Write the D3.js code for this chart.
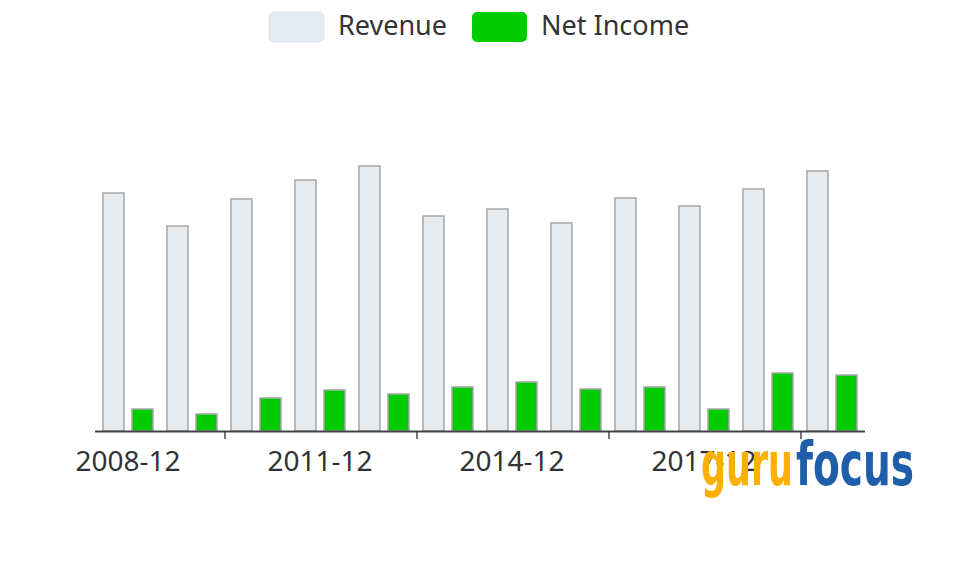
<!DOCTYPE html>
<html>
<head>
<meta charset="utf-8">
<script src="https://cdn.jsdelivr.net/npm/d3@7"></script>
<style>
  html, body { margin: 0; padding: 0; background: #fff; }
  svg { display: block; font-family: "Noto Sans", "Open Sans", sans-serif; }
</style>
</head>
<body>
<svg id="chart" width="959" height="567"></svg>
<script>
// Data
const years = ["2008-12", "2009-12", "2010-12", "2011-12", "2012-12", "2013-12",
               "2014-12", "2015-12", "2016-12", "2017-12", "2018-12", "2019-12"];
const revenue = [2380, 2050, 2320, 2510, 2650, 2150, 2220, 2080, 2330, 2250, 2420, 2600];
const netIncome = [220, 170, 330, 410, 370, 440, 490, 420, 440, 220, 580, 560];
const seriesNames = ["Revenue", "Net Income"];
const labelYears = ["2008-12", "2011-12", "2014-12", "2017-12"];

const svg = d3.select("#chart");

// Colors
const colors = {"Revenue": "#e6ebf0", "Net Income": "#00cc00"};

// Scales
const x0 = d3.scaleBand().domain(years).range([96, 864]).padding(0);
const x1 = d3.scaleBand().domain(seriesNames).range([7, 57]).paddingInner(0.276).paddingOuter(0);
const y = d3.scaleLinear().domain([0, 3000]).range([431, 131]);

const rows = years.map((yr, i) => ({year: yr, values: [
    {name: "Revenue", value: revenue[i]},
    {name: "Net Income", value: netIncome[i]}
]}));

// Bars
const groups = svg.append("g").selectAll("g")
    .data(rows)
    .enter().append("g")
    .attr("transform", d => `translate(${x0(d.year)},0)`);

groups.selectAll("rect")
    .data(d => d.values)
    .enter().append("rect")
    .attr("x", d => x1(d.name))
    .attr("y", d => y(d.value))
    .attr("width", x1.bandwidth())
    .attr("height", d => y(0) - y(d.value))
    .attr("fill", d => colors[d.name])
    .attr("stroke", "#a6a6a6")
    .attr("stroke-width", 1.5);

// X axis line
svg.append("line")
    .attr("x1", 95).attr("x2", 865)
    .attr("y1", y(0) + 0.5).attr("y2", y(0) + 0.5)
    .attr("stroke", "#444")
    .attr("stroke-width", 2);

// Ticks (between bands, ahead of each labelled year's third)
const tickYears = [years[2], years[5], years[8], years[11]];
svg.append("g").selectAll("line")
    .data(tickYears)
    .enter().append("line")
    .attr("x1", d => x0(d) + 1).attr("x2", d => x0(d) + 1)
    .attr("y1", y(0)).attr("y2", y(0) + 8)
    .attr("stroke", "#444")
    .attr("stroke-width", 1.5);

svg.append("g").selectAll("text")
    .data(labelYears)
    .enter().append("text")
    .attr("x", d => x0(d) + x0.bandwidth() / 2)
    .attr("y", 471)
    .attr("text-anchor", "middle")
    .attr("font-size", 28)
    .attr("fill", "#333")
    .text(d => d);

// Legend
const legendItems = [
    {name: "Revenue", x: 269, tx: 338},
    {name: "Net Income", x: 472, tx: 541}
];
const legend = svg.append("g");
legend.selectAll("rect")
    .data(legendItems)
    .enter().append("rect")
    .attr("x", d => d.x)
    .attr("y", 12)
    .attr("width", 55)
    .attr("height", 30)
    .attr("rx", 5)
    .attr("fill", d => colors[d.name])
    .attr("stroke", d => d.name === "Revenue" ? "#dfe4ea" : "none");
legend.selectAll("text")
    .data(legendItems)
    .enter().append("text")
    .attr("x", d => d.tx)
    .attr("y", 35)
    .attr("font-size", 27)
    .attr("fill", "#333")
    .text(d => d.name);

// Watermark
const logo = svg.append("g")
    .attr("font-family", "'Liberation Sans Narrow', 'DejaVu Sans Condensed', sans-serif")
    .attr("font-weight", "bold")
    .attr("font-size", 60);
logo.append("text")
    .attr("x", 701).attr("y", 485)
    .attr("fill", "#fbb000")
    .attr("textLength", 92)
    .attr("lengthAdjust", "spacingAndGlyphs")
    .text("guru");
logo.append("text")
    .attr("x", 796).attr("y", 485)
    .attr("fill", "#1f5fa9")
    .attr("textLength", 118)
    .attr("lengthAdjust", "spacingAndGlyphs")
    .text("focus");
</script>
</body>
</html>
